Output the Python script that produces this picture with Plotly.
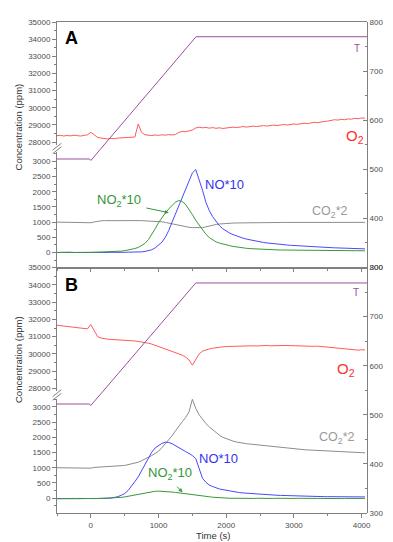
import plotly.graph_objects as go

# ---------------- data ----------------
time_s = list(range(-500, 4100, 50))  # sample times, 92 points

# Panel A
o2_a = [28370, 28390, 28350, 28380, 28360, 28400, 28370, 28350, 28390, 28420,
        28570, 28420, 28270, 28230, 28200, 28180, 28210, 28190, 28230, 28250,
        28270, 28260, 28300, 28290, 29050, 28560, 28420, 28400, 28380, 28410,
        28390, 28420, 28400, 28430, 28410, 28440, 28560, 28620, 28600, 28650,
        28700, 28820, 28860, 28830, 28850, 28810, 28840, 28800, 28830, 28790,
        28820, 28850, 28870, 28840, 28880, 28900, 28870, 28910, 28930, 28900,
        28940, 28960, 28930, 28970, 28990, 28960, 29000, 29020, 28990, 29030,
        29050, 29030, 29080, 29100, 29070, 29120, 29150, 29130, 29180, 29200,
        29220, 29260, 29300, 29280, 29320, 29300, 29350, 29330, 29380, 29360,
        29400, 29390]
no_a = [0, 5, -5, 0, 5, 0, -5, 5, 0, 0,
        0, 5, 0, -5, 5, 0, 5, 0, 5, 5,
        5, 10, 10, 10, 15, 20, 35, 55, 90, 150,
        230, 340, 500, 720, 1000, 1280, 1550, 1800, 2100, 2400,
        2620, 2730, 2400, 2050, 1650, 1380, 1180, 1010, 880, 780,
        700, 640, 590, 545, 505, 470, 440, 415, 390, 370,
        350, 330, 315, 300, 288, 276, 265, 255, 245, 236,
        228, 220, 212, 205, 198, 192, 186, 180, 174, 169,
        164, 159, 154, 150, 145, 141, 137, 133, 129, 125,
        121, 118]
no2_a = [0, 5, 0, -5, 5, 0, 5, 0, -5, 0,
         5, 5, 10, 10, 10, 15, 15, 20, 30, 45,
         60, 80, 105, 130, 165, 220, 300, 420, 580, 780,
         980, 1150, 1300, 1430, 1560, 1660, 1710, 1680, 1580, 1430,
         1250, 1060, 900, 740, 600, 490, 410, 350, 310, 275,
         250, 225, 200, 180, 162, 148, 137, 127, 119, 112,
         106, 100, 96, 92, 88, 85, 82, 80, 78, 76,
         74, 72, 70, 69, 68, 66, 65, 64, 63, 62,
         61, 60, 60, 59, 58, 58, 57, 57, 56, 56,
         55, 55]
co2_a = [1000, 1000, 1000, 1000, 1000, 1000, 1000, 1000, 1000, 1000,
         980, 1005, 1030, 1042, 1048, 1050, 1052, 1052, 1053, 1053,
         1053, 1052, 1052, 1050, 1050, 1048, 1045, 1042, 1038, 1033,
         1025, 1010, 990, 965, 940, 915, 890, 865, 845, 830,
         820, 812, 808, 818, 845, 875, 900, 922, 938, 950,
         958, 963, 968, 972, 975, 978, 980, 982, 984, 985,
         986, 987, 988, 988, 989, 989, 990, 990, 990, 990,
         990, 990, 991, 991, 991, 991, 991, 991, 991, 991,
         991, 991, 992, 992, 992, 992, 992, 992, 992, 992,
         992, 992]
temp_time_a = [-500, -20, 0, 1555, 4080]
temp_a = [521, 521, 518, 770, 770]

# Panel B
o2_b = [31660, 31640, 31620, 31600, 31580, 31560, 31530, 31500, 31470, 31450,
        31700, 31320, 31000, 30920, 30870, 30850, 30840, 30830, 30810, 30820,
        30790, 30780, 30770, 30750, 30720, 30700, 30650, 30620, 30570, 30500,
        30420, 30350, 30290, 30220, 30150, 30090, 30010, 29930, 29820, 29650,
        29350, 29640, 30000, 30160, 30240, 30290, 30330, 30370, 30390, 30410,
        30430, 30440, 30450, 30460, 30450, 30470, 30460, 30480, 30470, 30460,
        30480, 30470, 30490, 30470, 30480, 30460, 30480, 30470, 30490, 30480,
        30470, 30460, 30480, 30450, 30470, 30460, 30440, 30450, 30430, 30420,
        30410, 30390, 30370, 30340, 30310, 30280, 30250, 30230, 30240, 30220,
        30240, 30230]
no_b = [-15, -20, -10, -25, -15, -20, -10, -15, -20, -15,
        -10, -15, -10, -15, -10, -5, 0, 20, 50, 95,
        150, 250, 380, 540, 700, 900, 1110, 1330, 1510, 1650,
        1740, 1800, 1840, 1830, 1790, 1720, 1650, 1590, 1530, 1470,
        1400, 1300, 950, 650, 520, 430, 380, 330, 300, 280,
        255, 230, 210, 195, 180, 170, 160, 152, 145, 138,
        130, 122, 115, 108, 100, 95, 90, 85, 80, 75,
        70, 67, 64, 61, 58, 56, 54, 52, 50, 49,
        48, 47, 46, 45, 44, 43, 42, 42, 41, 41,
        40, 40]
no2_b = [-20, -15, -25, -15, -20, -10, -20, -15, -20, -15,
         -15, -10, -15, -10, -10, -5, -5, 0, 10, 25,
         40, 60, 80, 105, 130, 155, 180, 200, 215, 225,
         230, 228, 222, 212, 200, 188, 175, 162, 150, 140,
         130, 120, 100, 80, 60, 45, 30, 20, 10, 5,
         0, -5, -5, -10, -5, -10, -5, -10, -10, -5,
         -10, -5, -10, -15, -10, -5, -10, -10, -15, -10,
         -10, -5, -10, -10, -15, -10, -5, -10, -10, -15,
         -10, -10, -5, -10, -15, -10, -10, -5, -10, -10,
         -10, -10]
co2_b = [1000, 1000, 1000, 1000, 1000, 1000, 1000, 1000, 1000, 1000,
         985, 1010, 1020, 1030, 1035, 1040, 1045, 1050, 1060, 1068,
         1075, 1095, 1120, 1150, 1180, 1230, 1280, 1340, 1400, 1470,
         1540, 1660, 1780, 1910, 2050, 2210, 2380, 2510, 2650, 2830,
         3250, 2950, 2740, 2580, 2450, 2340, 2240, 2150, 2070, 2000,
         1950, 1910, 1875, 1845, 1820, 1805, 1790, 1778, 1765, 1752,
         1740, 1728, 1715, 1703, 1690, 1678, 1665, 1652, 1640, 1630,
         1620, 1610, 1600, 1592, 1585, 1578, 1570, 1562, 1555, 1548,
         1540, 1535, 1530, 1525, 1520, 1515, 1510, 1505, 1500, 1497,
         1495, 1490]
temp_time_b = [-500, -20, 0, 1550, 4080]
temp_b = [522, 522, 519, 768.5, 768.5]

upper_ticks = [28000, 29000, 30000, 31000, 32000, 33000, 34000, 35000]
lower_ticks = [0, 500, 1000, 1500, 2000, 2500, 3000]
temp_ticks = [300, 400, 500, 600, 700, 800]
time_ticks = [0, 1000, 2000, 3000, 4000]

# ---------------- styling ----------------
FONT = "Arial, Liberation Sans, sans-serif"
AX = "#808080"
TXT = "#4d4d4d"
C_T = "#9b4f9e"
C_O2 = "#ff5a5a"
C_NO = "#4848ff"
C_NO2 = "#3a983a"
C_CO2 = "#8c8c8c"

fig = go.Figure()


def add(x, y, xa, ya, color, width=1.0):
    fig.add_trace(go.Scatter(x=x, y=y, xaxis=xa, yaxis=ya, mode="lines",
                             line=dict(color=color, width=width),
                             showlegend=False, hoverinfo="skip"))


# Panel A
add(time_s, co2_a, "x2", "y2", C_CO2)
add(time_s, no_a, "x2", "y2", C_NO)
add(time_s, no2_a, "x2", "y2", C_NO2)
add(time_s, o2_a, "x", "y", C_O2)
add(temp_time_a, temp_a, "x", "y5", C_T)
# Panel B
add(time_s, co2_b, "x4", "y4", C_CO2)
add(time_s, no_b, "x4", "y4", C_NO)
add(time_s, no2_b, "x4", "y4", C_NO2)
add(time_s, o2_b, "x3", "y3", C_O2)
add(temp_time_b, temp_b, "x3", "y6", C_T)

tickfont = dict(size=8, color=TXT, family=FONT)
xbase = dict(range=[-500, 4080], showgrid=False, zeroline=False, showline=True,
             linecolor=AX, linewidth=1, tickcolor=AX, tickvals=time_ticks,
             tickfont=tickfont)


def yleft(dom, rng, ticks, minor, anchor):
    return dict(domain=dom, range=rng, anchor=anchor, showgrid=False,
                zeroline=False, showline=True, linecolor=AX, linewidth=1,
                ticks="outside", ticklen=4, tickcolor=AX, tickvals=ticks,
                tickformat="d", tickfont=tickfont,
                minor=dict(dtick=minor, tick0=0, ticks="outside", ticklen=2,
                           tickcolor=AX, showgrid=False))


def yright(dom, anchor):
    return dict(domain=dom, range=[300, 800], anchor=anchor, side="right",
                showgrid=False, zeroline=False, showline=True, linecolor=AX,
                linewidth=1, ticks="inside", ticklen=4, tickcolor=AX,
                tickvals=temp_ticks, tickformat="d", tickfont=tickfont,
                minor=dict(dtick=50, tick0=0, ticks="inside", ticklen=2,
                           tickcolor=AX, showgrid=False))


# The page body adds an 8 px offset, so the figure is 8 px smaller.
fig.update_layout(
    width=385, height=534,
    margin=dict(l=49, r=12, t=10, b=29),
    paper_bgcolor="white", plot_bgcolor="rgba(0,0,0,0)",
    font=dict(family=FONT),
    xaxis=dict(xbase, anchor="y", side="top", ticks="", showticklabels=False),
    xaxis2=dict(xbase, anchor="y2", matches="x", ticks="outside", ticklen=3,
                showticklabels=False,
                minor=dict(dtick=500, tick0=0, ticks="outside", ticklen=2, tickcolor=AX)),
    xaxis3=dict(xbase, anchor="y3", side="top", matches="x", ticks="",
                showticklabels=False),
    xaxis4=dict(xbase, anchor="y4", matches="x", ticks="outside", ticklen=4,
                minor=dict(dtick=500, tick0=0, ticks="outside", ticklen=2, tickcolor=AX)),
    yaxis=yleft([0.7505, 1.0], [27855, 35000], upper_ticks, 500, "x"),
    yaxis2=yleft([0.5, 0.7343], [-495, 3295], lower_ticks, 250, "x2"),
    yaxis3=yleft([0.2475, 0.5], [27828, 35000], upper_ticks, 500, "x3"),
    yaxis4=yleft([0.0, 0.2323], [-489, 3261], lower_ticks, 250, "x4"),
    yaxis5=yright([0.5, 1.0], "x"),
    yaxis6=yright([0.0, 0.5], "x3"),
)


def px2paper(px, py):
    # page pixels -> paper coordinates (plot area spans x 57..373, y 18..513)
    return (px - 57) / 316.0, (513 - py) / 495.0


# axis break marks
for cy in (145.5, 394.0):
    for off in (-1.8, 1.8):
        x0, y0 = px2paper(52.5, cy + off + 3.5)
        x1, y1 = px2paper(61.5, cy + off - 3.5)
        fig.add_shape(type="line", xref="paper", yref="paper", x0=x0, y0=y0,
                      x1=x1, y1=y1, line=dict(color=AX, width=1))

ann = []


def label(text, x, y, xr, yr, color, size, **kw):
    ann.append(dict(text=text, x=x, y=y, xref=xr, yref=yr, showarrow=False,
                    xanchor="center", yanchor="middle",
                    font=dict(color=color, size=size, family=FONT), **kw))


# Panel A labels
label("<b>A</b>", -283, 34075, "x", "y", "black", 18)
label("T", 3935, 747, "x", "y5", C_T, 10)
label("O<sub>2</sub>", 3900, 28300, "x", "y", "#ff3030", 15)
label("NO*10", 1978, 2230, "x2", "y2", "#3333ee", 13)
label("CO<sub>2</sub>*2", 3529, 1320, "x2", "y2", "#999999", 12.5)
label("NO<sub>2</sub>*10", 413, 1700, "x2", "y2", "#33963a", 13)
# Panel B labels
label("<b>B</b>", -283, 33996, "x3", "y3", "black", 18)
label("T", 3920, 750, "x3", "y6", C_T, 10)
label("O<sub>2</sub>", 3770, 29080, "x3", "y3", "#ff3030", 15)
label("CO<sub>2</sub>*2", 3630, 1990, "x4", "y4", "#999999", 12.5)
label("NO*10", 1891, 1304, "x4", "y4", "#3333ee", 13)
label("NO<sub>2</sub>*10", 1167, 820, "x4", "y4", "#33963a", 13)

# arrows for NO2 labels
ann.append(dict(text="", x=1152, y=1311, xref="x2", yref="y2", showarrow=True,
                ax=-24, ay=-5, arrowhead=2, arrowsize=0.8, arrowwidth=1,
                arrowcolor="#33963a"))
ann.append(dict(text="", x=1355, y=195, xref="x4", yref="y4", showarrow=True,
                ax=-7, ay=-7, arrowhead=2, arrowsize=0.8, arrowwidth=1,
                arrowcolor="#33963a"))

# axis titles
for cy in (123.5, 358.0):
    px_, py_ = px2paper(18, cy)
    ann.append(dict(text="Concentration (ppm)", x=px_, y=py_, xref="paper",
                    yref="paper", showarrow=False, textangle=-90,
                    xanchor="center", yanchor="middle",
                    font=dict(size=9.5, color="#333333", family=FONT)))
tx, ty = px2paper(216, 536)
ann.append(dict(text="Time (s)", x=tx, y=ty, xref="paper", yref="paper",
                showarrow=False, xanchor="center", yanchor="middle",
                font=dict(size=9.5, color="#333333", family=FONT)))
for cy in (140.0, 388.0):
    rx, ry = px2paper(389, cy)
    ann.append(dict(text="T (K)", x=rx, y=ry, xref="paper", yref="paper",
                    showarrow=False, textangle=-90, xanchor="left",
                    yanchor="middle",
                    font=dict(size=9.5, color="#333333", family=FONT)))

fig.update_layout(annotations=ann)

fig.write_html("out.html")
